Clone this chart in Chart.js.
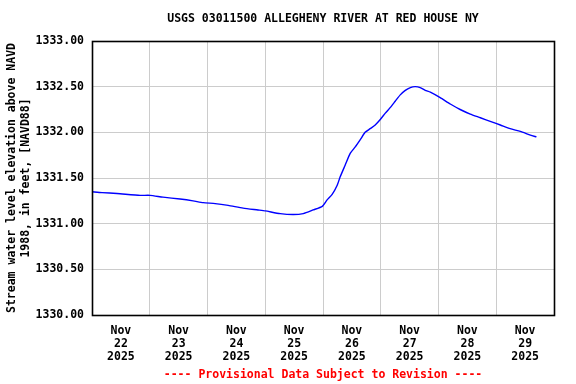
<!DOCTYPE html>
<html>
<head>
<meta charset="utf-8">
<script src="https://cdn.jsdelivr.net/npm/chart.js@4"></script>
<style>
  html, body { margin: 0; padding: 0; background: #fff; }
  #wrap { width: 576px; height: 384px; }
</style>
</head>
<body>
<div id="wrap"><canvas id="gage-chart" width="576" height="384"></canvas></div>
<script>
// hours since Nov 22 2025 00:00
const hours = [0, 4.2, 10.4, 20, 24.1, 29.5, 36.6, 42, 46.2, 51.2, 56.6, 62.8, 69, 72, 78.2, 83.6, 87.8, 91.9, 95.7,
    97.7, 99.8, 101.9, 103.1, 105.2, 107.3, 109.4, 111.5, 113.5, 115.6, 117.7, 119.8, 121.9, 123.9, 126, 128.1, 130.2,
    132.3, 134.3, 136.4, 138.5, 140.6, 144.7, 148.9, 153, 157.2, 161.4, 165.5, 169.7, 173.8, 178, 182.2, 184.7];
const elevation = [1331.35, 1331.34, 1331.33, 1331.31, 1331.31, 1331.29, 1331.27, 1331.25, 1331.23, 1331.22, 1331.20,
    1331.17, 1331.15, 1331.14, 1331.11, 1331.10, 1331.11, 1331.15, 1331.19,
    1331.26, 1331.32, 1331.42, 1331.51, 1331.64, 1331.77, 1331.84, 1331.92, 1332.00, 1332.04, 1332.08, 1332.14,
    1332.21, 1332.27, 1332.34, 1332.41, 1332.46, 1332.49, 1332.50, 1332.49, 1332.46, 1332.44, 1332.38, 1332.31,
    1332.25, 1332.20, 1332.16, 1332.12, 1332.08, 1332.04, 1332.01, 1331.97, 1331.95];
const dayLabels = ['22', '23', '24', '25', '26', '27', '28', '29'];
const yearLabel = '2025';
const monthLabel = 'Nov';

const monoFont = "'DejaVu Sans Mono', 'Liberation Mono', monospace";

// frame around the plot area, like the USGS graphs
const plotFrame = {
    id: 'plotFrame',
    afterDraw(chart) {
        const { ctx, chartArea: a } = chart;
        ctx.save();
        ctx.strokeStyle = '#000';
        ctx.lineWidth = 1.6;
        ctx.strokeRect(Math.round(a.left) + 0.5, Math.round(a.top) + 0.5,
            Math.round(a.right - a.left), Math.round(a.bottom - a.top));
        ctx.restore();
    }
};

new Chart(document.getElementById('gage-chart'), {
    type: 'line',
    data: {
        datasets: [{
            data: hours.map((h, i) => ({ x: h, y: elevation[i] })),
            borderColor: '#0000ff',
            borderWidth: 1.4,
            pointRadius: 0,
            tension: 0.2,
            fill: false
        }]
    },
    options: {
        responsive: false,
        animation: false,
        layout: { padding: { top: 0, right: 22, bottom: 0, left: 0 } },
        plugins: {
            legend: { display: false },
            tooltip: { enabled: false },
            title: {
                display: true,
                fullSize: false,
                text: 'USGS 03011500 ALLEGHENY RIVER AT RED HOUSE NY',
                color: '#000',
                font: { family: monoFont, size: 11.5, weight: 'bold', lineHeight: '14px' },
                padding: { top: 12, bottom: 15 }
            },
            subtitle: {
                display: true,
                position: 'bottom',
                fullSize: false,
                text: '---- Provisional Data Subject to Revision ----',
                color: '#ff0000',
                font: { family: monoFont, size: 11.5, weight: 'bold', lineHeight: '14px' },
                padding: { top: 0, bottom: 2 }
            }
        },
        scales: {
            x: {
                type: 'linear',
                min: 0,
                max: 192,
                afterBuildTicks: (scale) => {
                    const t = [];
                    for (let v = 0; v <= 192; v += 12) t.push({ value: v });
                    scale.ticks = t;
                },
                afterFit: (scale) => { scale.height = 53; },
                border: { display: false },
                grid: {
                    drawTicks: false,
                    color: (ctx) => (ctx.tick && ctx.tick.value % 24 === 0) ? '#cccccc' : 'rgba(0,0,0,0)'
                },
                ticks: {
                    autoSkip: false,
                    maxRotation: 0,
                    padding: 10,
                    color: '#000',
                    font: { family: monoFont, size: 11.5, weight: 'bold', lineHeight: '13px' },
                    callback: (v) => (v % 24 === 12) ? [monthLabel, dayLabels[(v - 12) / 24], yearLabel] : ''
                }
            },
            y: {
                min: 1330,
                max: 1333,
                afterFit: (scale) => { scale.width = 92; },
                border: { display: false },
                grid: { drawTicks: false, color: '#cccccc' },
                ticks: {
                    stepSize: 0.5,
                    padding: 8,
                    color: '#000',
                    font: { family: monoFont, size: 11.5, weight: 'bold' },
                    callback: (v) => v.toFixed(2)
                },
                title: {
                    display: true,
                    text: ['Stream water level elevation above NAVD', '1988, in feet, [NAVD88]'],
                    color: '#000',
                    font: { family: monoFont, size: 11.5, weight: 'bold', lineHeight: '14px' },
                    padding: { top: 5, bottom: 0 }
                }
            }
        }
    },
    plugins: [plotFrame]
});
</script>
</body>
</html>
